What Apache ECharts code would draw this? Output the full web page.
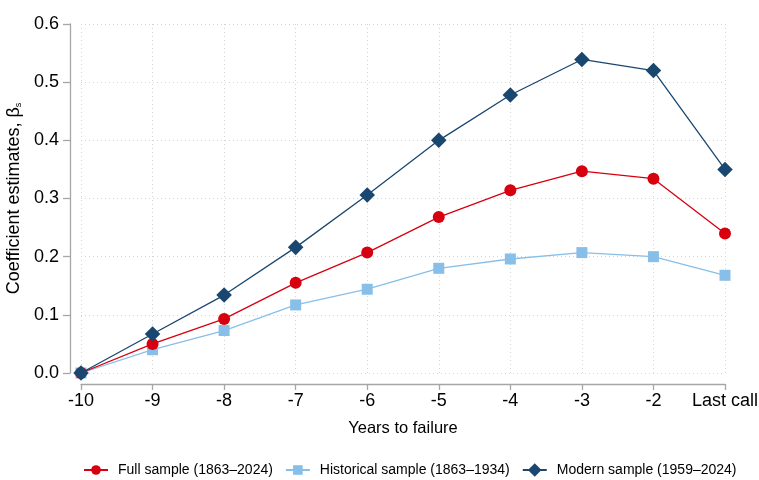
<!DOCTYPE html>
<html><head><meta charset="utf-8">
<script src="https://cdn.jsdelivr.net/npm/echarts@6/dist/echarts.min.js"></script>
<style>html,body{margin:0;padding:0;background:#fff}#c{width:759px;height:480px}</style>
</head><body><div id="c"></div>
<script>
const xValues = [-10, -9, -8, -7, -6, -5, -4, -3, -2, -1];
const xTickLabels = {"-1": "Last call"};
const yTicks = [0, 0.1, 0.2, 0.3, 0.4, 0.5, 0.6];
const fullSample = [0, 0.050, 0.093, 0.155, 0.207, 0.268, 0.314, 0.347, 0.334, 0.240];
const historicalSample = [0, 0.040, 0.073, 0.117, 0.144, 0.180, 0.196, 0.207, 0.200, 0.168];
const modernSample = [0, 0.067, 0.134, 0.216, 0.306, 0.400, 0.478, 0.539, 0.520, 0.350];
const seriesNames = ["Full sample (1863\u20132024)", "Historical sample (1863\u20131934)", "Modern sample (1959\u20132024)"];

const font = "Liberation Sans, Arial, sans-serif";
const chart = echarts.init(document.getElementById('c'), null, {renderer: 'canvas'});
const pair = arr => xValues.map((x, i) => [x, arr[i]]);
chart.setOption({
  animation: false,
  textStyle: {fontFamily: font},
  grid: {left: 81, right: 34, top: 24, bottom: 107, containLabel: false, outerBoundsMode: 'none'},
  xAxis: {
    type: 'value', min: -10, max: -1, interval: 1, offset: 11,
    name: 'Years to failure', nameLocation: 'middle', nameGap: 36,
    nameTextStyle: {fontSize: 16.5, color: '#000', fontFamily: font},
    axisLine: {show: true, onZero: false, lineStyle: {color: '#a6a6a6', width: 1.3}},
    axisTick: {show: true, length: 6, lineStyle: {color: '#a6a6a6', width: 1.3}},
    axisLabel: {fontSize: 18, color: '#000', margin: 8, fontFamily: font,
      formatter: v => xTickLabels[String(v)] !== undefined ? xTickLabels[String(v)] : String(v)},
    splitLine: {show: true, lineStyle: {color: '#d4d4d4', type: [1, 3], width: 1}}
  },
  yAxis: {
    type: 'value', min: 0, max: 0.6, interval: 0.1, offset: 11,
    name: 'Coefficient estimates, {b|\u03b2}{s|s}', nameLocation: 'middle', nameGap: 37,
    nameTextStyle: {fontSize: 18, color: '#000', fontFamily: font,
      rich: {b: {fontSize: 18, fontFamily: font, color: '#000'}, s: {fontSize: 9, fontFamily: font, color: '#000', verticalAlign: 'bottom', padding: [9, 0, 0, 0]}}},
    axisLine: {show: true, onZero: false, lineStyle: {color: '#a6a6a6', width: 1.3}},
    axisTick: {show: true, length: 7, lineStyle: {color: '#a6a6a6', width: 1.3}},
    axisLabel: {fontSize: 18, color: '#000', margin: 11, fontFamily: font, formatter: v => v.toFixed(1)},
    splitLine: {show: true, lineStyle: {color: '#d4d4d4', type: [1, 3], width: 1}}
  },
  legend: {
    top: 463, left: 83, padding: 0, itemGap: 12, itemWidth: 24, itemHeight: 12,
    textStyle: {fontSize: 14, color: '#000', fontFamily: font, padding: [0, 0, 0, 5]},
    data: seriesNames
  },
  series: [
    {name: seriesNames[0], type: 'line', data: pair(fullSample), symbol: 'circle', symbolSize: 12,
     lineStyle: {color: '#d7000f', width: 1.3}, itemStyle: {color: '#d7000f'}, z: 3},
    {name: seriesNames[1], type: 'line', data: pair(historicalSample), symbol: 'rect', symbolSize: 11,
     lineStyle: {color: '#87bfe8', width: 1.3}, itemStyle: {color: '#87bfe8'}, z: 2},
    {name: seriesNames[2], type: 'line', data: pair(modernSample), symbol: 'rect', symbolSize: 11, symbolRotate: 45,
     lineStyle: {color: '#1a476f', width: 1.3}, itemStyle: {color: '#1a476f'}, z: 4}
  ]
});
</script></body></html>
